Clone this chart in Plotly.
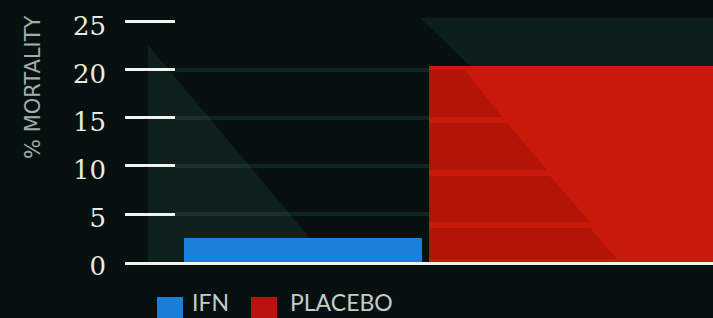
import plotly.graph_objects as go

# ---- data ----
categories = ["IFN", "PLACEBO"]
mortality = [2.5, 20.4]
tick_values = [0, 5, 10, 15, 20, 25]
tick_labels = ["0", "5", "10", "15", "20", "25"]
y_title = "% MORTALITY"

# ---- style ----
W, H = 713, 318
L, R, T, B = 125, 0, 0, 56
BG = "#06110f"
bar_colors = ["#1c80d8", "#c8190b"]
legend_colors = ["#1a7fd6", "#bb1210"]
PW, PH = W - L - R, H - T - B


def px(xp):
    return (xp - L) / PW


def py(yp):
    return (H - B - yp) / PH


fig = go.Figure()
fig.add_trace(go.Bar(
    x=list(range(len(categories))),
    y=mortality,
    customdata=categories,
    marker=dict(color=bar_colors, line=dict(width=0)),
    width=[0.97, 1.5],
    offset=[-0.485, -0.485],
    hovertemplate="%{customdata}: %{y}%<extra></extra>",
    showlegend=False,
))

shapes = []
# faint background decoration
shapes.append(dict(type="path", xref="paper", yref="paper", layer="below",
                   path=f"M{px(148)},{py(45)} L{px(330)},{py(262)} L{px(148)},{py(262)} Z",
                   fillcolor="rgba(30,70,58,0.3)", line=dict(width=0)))
shapes.append(dict(type="path", xref="paper", yref="paper", layer="below",
                   path=f"M{px(420)},{py(18)} L{px(713)},{py(18)} L{px(713)},{py(66)} L{px(470)},{py(66)} Z",
                   fillcolor="rgba(30,70,58,0.25)", line=dict(width=0)))
for tv in tick_values[1:-1]:
    shapes.append(dict(type="line", xref="paper", yref="y", layer="below",
                       x0=px(175), x1=1, y0=tv, y1=tv,
                       line=dict(color="rgba(40,90,75,0.3)", width=4)))
# darker stepped bands on the red bar
bands = [(70, 117, 465, 502), (123, 170, 507, 547), (176, 222, 550, 590), (228, 259, 590, 617)]
for y0, y1, xa, xb in bands:
    shapes.append(dict(type="path", xref="paper", yref="paper", layer="above",
                       path=f"M{px(429)},{py(y0)} L{px(xa)},{py(y0)} L{px(xb)},{py(y1)} L{px(429)},{py(y1)} Z",
                       fillcolor="rgba(110,0,0,0.22)", line=dict(width=0)))

# custom legend squares
legend_x = [157, 251]
legend_text_x = [191, 289]
for xs, c in zip(legend_x, legend_colors):
    shapes.append(dict(type="rect", xref="paper", yref="paper",
                       x0=px(xs), x1=px(xs + 26), y0=py(297), y1=py(322),
                       fillcolor=c, line=dict(width=0)))

annotations = [dict(text=y_title, xref="paper", yref="paper", x=px(33), y=py(87),
                    textangle=-90, showarrow=False, xanchor="center", yanchor="middle",
                    font=dict(family="DejaVu Sans", size=21, color="#a3adab"))]
for xt, name in zip(legend_text_x, categories):
    annotations.append(dict(text=name, xref="paper", yref="paper", x=px(xt - 1), y=py(318),
                            showarrow=False, xanchor="left", yanchor="bottom",
                            font=dict(family="Lato", size=23, color="#c6cbca")))

fig.update_layout(
    width=W, height=H,
    margin=dict(l=L, r=R, t=T, b=B, pad=0),
    paper_bgcolor=BG, plot_bgcolor=BG,
    shapes=shapes, annotations=annotations,
    bargap=0,
    xaxis=dict(range=[-0.7265, 1.673], showticklabels=False, ticks="", showgrid=False,
               zeroline=False, showline=True, linecolor="#f2f2ee", linewidth=2.5),
    yaxis=dict(range=[0, 27.29], tickvals=tick_values, ticktext=tick_labels,
               ticks="inside", ticklen=50, tickwidth=2.5, tickcolor="#f2f2ee",
               showgrid=False, zeroline=False, showline=False,
               ticklabelstandoff=18, ticklabelshift=4,
               tickfont=dict(family="DejaVu Serif", size=26, color="#ece9e0")),
)

fig.write_html("out.html", config={"displayModeBar": False},
               post_script="document.body.style.margin='0';document.body.style.overflow='hidden';")
